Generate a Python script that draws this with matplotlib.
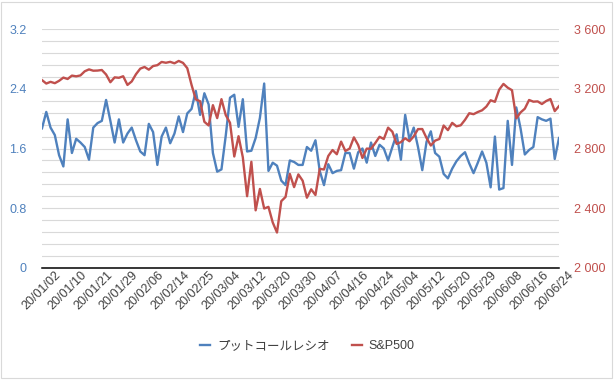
import numpy as np
import pandas as pd
import matplotlib
matplotlib.use("Agg")
import matplotlib.pyplot as plt
from matplotlib.patches import Rectangle
from matplotlib.ticker import FuncFormatter

# 営業日 (米国市場, 2020/01/02 - 2020/06/25)
holidays = ["2020-01-20", "2020-02-17", "2020-04-10", "2020-05-25"]
days = pd.bdate_range("2020-01-02", "2020-06-25")
days = days[~days.isin(pd.to_datetime(holidays))]
date_labels = [d.strftime("%y/%m/%d") for d in days]

put_call = [
    1.87, 2.09, 1.88, 1.78, 1.51, 1.36, 1.99, 1.54, 1.73, 1.68,
    1.62, 1.45, 1.88, 1.94, 1.97, 2.25, 1.97, 1.68, 1.99, 1.68,
    1.80, 1.88, 1.71, 1.56, 1.51, 1.93, 1.82, 1.38, 1.76, 1.88,
    1.67, 1.80, 2.03, 1.82, 2.07, 2.13, 2.37, 2.05, 2.34, 2.19,
    1.54, 1.29, 1.32, 1.77, 2.28, 2.32, 1.89, 2.26, 1.56, 1.57,
    1.74, 2.01, 2.47, 1.30, 1.41, 1.37, 1.17, 1.11, 1.44, 1.42,
    1.38, 1.38, 1.62, 1.57, 1.71, 1.30, 1.11, 1.39, 1.27, 1.30,
    1.31, 1.54, 1.54, 1.33, 1.55, 1.60, 1.41, 1.68, 1.50, 1.65,
    1.60, 1.44, 1.62, 1.79, 1.45, 2.05, 1.72, 1.88, 1.62, 1.31,
    1.69, 1.83, 1.54, 1.49, 1.26, 1.20, 1.33, 1.43, 1.50, 1.55,
    1.40, 1.27, 1.41, 1.56, 1.41, 1.08, 1.76, 1.05, 1.07, 1.97,
    1.38, 2.15, 1.87, 1.52, 1.58, 1.62, 2.02, 1.99, 1.97, 2.00,
    1.46, 1.74,
]

sp500 = [
    3257.85, 3234.85, 3246.28, 3237.18, 3253.05, 3274.70, 3265.35, 3288.13, 3283.15, 3289.29,
    3316.81, 3329.62, 3320.79, 3321.75, 3325.54, 3295.47, 3243.63, 3276.24, 3273.40, 3283.66,
    3225.52, 3248.92, 3297.59, 3334.69, 3345.78, 3327.71, 3352.09, 3357.75, 3379.45, 3373.94,
    3380.16, 3370.29, 3386.15, 3373.23, 3337.75, 3225.89, 3128.21, 3116.39, 2978.76, 2954.22,
    3090.23, 3003.37, 3130.12, 3023.94, 2972.37, 2746.56, 2882.23, 2741.38, 2480.64, 2711.02,
    2386.13, 2529.19, 2398.10, 2409.39, 2304.92, 2237.40, 2447.33, 2475.56, 2630.07, 2541.47,
    2626.65, 2584.59, 2470.50, 2526.90, 2488.65, 2663.68, 2659.41, 2749.98, 2789.82, 2761.63,
    2846.06, 2783.36, 2799.55, 2874.56, 2823.16, 2736.56, 2799.31, 2797.80, 2836.74, 2878.48,
    2863.39, 2939.51, 2912.43, 2830.71, 2842.74, 2868.44, 2848.42, 2881.19, 2929.80, 2930.32,
    2870.12, 2820.00, 2852.50, 2863.70, 2953.91, 2922.94, 2971.61, 2948.51, 2955.45, 2991.77,
    3036.13, 3029.73, 3044.31, 3055.73, 3080.82, 3122.87, 3112.35, 3193.93, 3232.39, 3207.18,
    3190.14, 3002.10, 3041.31, 3066.59, 3124.74, 3113.49, 3115.34, 3097.74, 3117.86, 3131.29,
    3050.33, 3083.76,
]

series_names = ["プットコールレシオ", "S&P500"]

BLUE = "#4F81BD"
RED = "#C0504D"
fonts = ["Liberation Sans", "Noto Sans CJK JP", "DejaVu Sans"]
plt.rcParams["font.family"] = fonts

x = np.arange(len(date_labels))

fig = plt.figure(figsize=(6.15, 3.8), dpi=100)
ax = fig.add_axes([42 / 615, 1 - 268 / 380, 517 / 615, 239 / 380])
ax2 = ax.twinx()

l1, = ax.plot(x, put_call, color=BLUE, lw=1.7, solid_joinstyle="round")
l2, = ax2.plot(x, sp500, color=RED, lw=1.7, solid_joinstyle="round")

ax.set_xlim(0, len(x) - 1)
ax.set_ylim(0, 3.2)
ax2.set_ylim(2000, 3600)

ax.set_yticks(np.arange(0, 3.21, 0.8))
ax.set_yticks(np.arange(0, 3.21, 0.16), minor=True)
ax.grid(True, which="minor", axis="y", color="#D9D9D9", lw=0.8)
ax.grid(True, which="major", axis="y", color="#D9D9D9", lw=0.8)
ax.set_axisbelow(True)
ax2.set_yticks(np.arange(2000, 3601, 400))

ax.yaxis.set_major_formatter(FuncFormatter(lambda v, p: "0" if abs(v) < 1e-9 else f"{v:.1f}"))
ax2.yaxis.set_major_formatter(FuncFormatter(lambda v, p: f"{v:,.0f}".replace(",", " ")))

ax.tick_params(axis="y", which="both", length=0, pad=11, labelsize=9, labelcolor=BLUE)
ax2.tick_params(axis="y", which="both", length=0, pad=11, labelsize=9, labelcolor=RED)

ax.set_xticks(x[::6])
ax.set_xticklabels(date_labels[::6], rotation=45, ha="center", va="top",
                   fontsize=9, color="#404040")
ax.tick_params(axis="x", length=0, pad=1)

for s in ["top", "left", "right"]:
    ax.spines[s].set_visible(False)
    ax2.spines[s].set_visible(False)
ax2.spines["bottom"].set_visible(False)
ax.spines["bottom"].set_color("#000000")
ax.spines["bottom"].set_linewidth(1.1)

fig.legend([l1, l2], series_names, loc="center", bbox_to_anchor=(0.5, 1 - 346 / 380),
           ncol=2, frameon=False, handlelength=0.8, handletextpad=0.55,
           columnspacing=1.75, prop={"family": fonts, "size": 9},
           labelcolor="#404040")

fig.add_artist(Rectangle((1 / 615, 2 / 380), 611 / 615, 376 / 380,
                         transform=fig.transFigure, fill=False,
                         ec="#D9D9D9", lw=0.8))

fig.savefig("out.png", dpi=100)
